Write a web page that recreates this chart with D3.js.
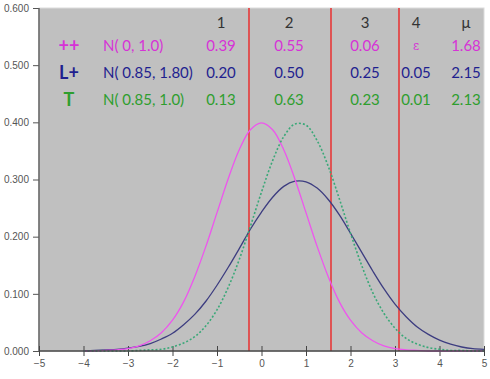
<!DOCTYPE html>
<html>
<head>
<meta charset="utf-8">
<script src="https://cdn.jsdelivr.net/npm/d3@7"></script>
<style>
  body { margin: 0; background: #fff; }
  .tick text { font-family: Arial, "Liberation Sans", sans-serif; font-size: 10px; fill: #555; }
  .legend-text { font-family: Lato, "Open Sans", sans-serif; font-size: 15px; font-weight: 400; }
</style>
</head>
<body>
<div id="chart"></div>
<script>
///////////////////////////////////////////////////////////////////////////
//////////////////////////////// Data ////////////////////////////////////
///////////////////////////////////////////////////////////////////////////

// x positions where the density curves were read
var xs = [-4, -3.75, -3.5, -3.25, -3, -2.75, -2.5, -2.25, -2, -1.75, -1.5, -1.25, -1, -0.75, -0.5, -0.25,
  0, 0.25, 0.5, 0.75, 1, 1.25, 1.5, 1.75, 2, 2.25, 2.5, 2.75, 3, 3.25, 3.5, 3.75, 4, 4.25, 4.5, 4.75, 5];

var pinkValues = [0.000, 0.000, 0.001, 0.002, 0.004, 0.009, 0.018, 0.032, 0.054, 0.086, 0.130, 0.183, 0.242, 0.301, 0.352, 0.387,
  0.399, 0.387, 0.352, 0.301, 0.242, 0.183, 0.130, 0.086, 0.054, 0.032, 0.018, 0.009, 0.004, 0.002, 0.001, 0.000, 0.000, 0.000, 0.000, 0.000, 0.000];

var navyValues = [0.000, 0.001, 0.002, 0.003, 0.005, 0.008, 0.013, 0.021, 0.031, 0.046, 0.064, 0.087, 0.115, 0.146, 0.179, 0.213,
  0.243, 0.269, 0.288, 0.297, 0.296, 0.285, 0.265, 0.238, 0.206, 0.173, 0.140, 0.109, 0.082, 0.060, 0.042, 0.029, 0.019, 0.012, 0.007, 0.004, 0.003];

var greenValues = [0.000, 0.000, 0.000, 0.000, 0.000, 0.001, 0.002, 0.003, 0.007, 0.014, 0.025, 0.044, 0.072, 0.111, 0.160, 0.218,
  0.278, 0.333, 0.375, 0.397, 0.395, 0.368, 0.323, 0.266, 0.206, 0.150, 0.102, 0.066, 0.040, 0.022, 0.012, 0.006, 0.003, 0.001, 0.001, 0.000, 0.000];

// cut points (red vertical lines)
var cutPoints = [-0.29, 1.57, 3.08];

// table in the top of the plot
var headers = ["1", "2", "3", "4", "\u03bc"];
var rowSymbols = ["++", "L+", "T"];
var rowLabels = ["N( 0, 1.0)", "N( 0.85, 1.80)", "N( 0.85, 1.0)"];
var rowCells = [
  ["0.39", "0.55", "0.06", "\u03b5", "1.68"],
  ["0.20", "0.50", "0.25", "0.05", "2.15"],
  ["0.13", "0.63", "0.23", "0.01", "2.13"]
];

var xTicks = [-5, -4, -3, -2, -1, 0, 1, 2, 3, 4, 5];
var yTicks = [0, 0.1, 0.2, 0.3, 0.4, 0.5, 0.6];

///////////////////////////////////////////////////////////////////////////
//////////////////////////////// Setup ///////////////////////////////////
///////////////////////////////////////////////////////////////////////////

var margin = {top: 8, right: 6, bottom: 28, left: 39};
var width = 490 - margin.left - margin.right;
var height = 379 - margin.top - margin.bottom;

var textColors = ["#d633d6", "#1f1f8f", "#2e9e2e"];
var lineColors = ["#ee55ee", "#3d3d80", "#3aa878"];

var svg = d3.select("#chart")
  .append("svg")
  .attr("width", width + margin.left + margin.right)
  .attr("height", height + margin.top + margin.bottom)
  .append("g")
  .attr("transform", "translate(" + margin.left + "," + margin.top + ")");

var x = d3.scaleLinear().domain([-5, 5]).range([0, width]);
var y = d3.scaleLinear().domain([0, 0.6]).range([height, 0]);

//Grey plot area
svg.append("rect")
  .attr("width", width)
  .attr("height", height)
  .style("fill", "#c0c0c0")
  .style("stroke", "#dcdcdc")
  .style("stroke-width", 1);

///////////////////////////////////////////////////////////////////////////
//////////////////////////////// Axes ////////////////////////////////////
///////////////////////////////////////////////////////////////////////////

var yAxis = svg.append("g")
  .call(d3.axisLeft(y).tickValues(yTicks).tickFormat(d3.format(".3f")).tickSize(6).tickPadding(4));
yAxis.select(".domain").remove();
yAxis.selectAll(".tick line").style("stroke", "#555");

svg.append("line")
  .attr("x1", 0).attr("x2", 0)
  .attr("y1", 0).attr("y2", height)
  .style("stroke", "#606060")
  .style("stroke-width", 1.5);

var xAxis = svg.append("g")
  .attr("transform", "translate(0," + height + ")")
  .call(d3.axisBottom(x).tickValues(xTicks).tickFormat(d3.format("d")).tickSize(6).tickPadding(3));
xAxis.select(".domain").remove();
xAxis.selectAll(".tick line")
  .attr("y1", -5).attr("y2", 5)
  .style("stroke", "#444");

///////////////////////////////////////////////////////////////////////////
/////////////////////////////// Curves ///////////////////////////////////
///////////////////////////////////////////////////////////////////////////

function makeLine(values) {
  return d3.line()
    .x(function(d, i) { return x(xs[i]); })
    .y(function(d) { return y(d); })
    .curve(d3.curveCatmullRom)(values);
}

//Red cut lines
svg.selectAll(".cut-line")
  .data(cutPoints)
  .enter().append("line")
  .attr("class", "cut-line")
  .attr("x1", function(d) { return Math.round(x(d)); })
  .attr("x2", function(d) { return Math.round(x(d)); })
  .attr("y1", 0)
  .attr("y2", height)
  .style("stroke", "#e24848")
  .style("stroke-width", 1.8);

svg.append("path")
  .attr("d", makeLine(navyValues))
  .style("fill", "none")
  .style("stroke", lineColors[1])
  .style("stroke-width", 1.3);

svg.append("path")
  .attr("d", makeLine(pinkValues))
  .style("fill", "none")
  .style("stroke", lineColors[0])
  .style("stroke-width", 1.3);

svg.append("path")
  .attr("d", makeLine(greenValues))
  .style("fill", "none")
  .style("stroke", lineColors[2])
  .style("stroke-width", 1.6)
  .style("stroke-dasharray", "2 2");

//Bottom axis line on top of the curves
svg.append("line")
  .attr("x1", 0).attr("x2", width)
  .attr("y1", height).attr("y2", height)
  .style("stroke", "#444")
  .style("stroke-width", 1.5);

///////////////////////////////////////////////////////////////////////////
/////////////////////////////// Table ////////////////////////////////////
///////////////////////////////////////////////////////////////////////////

var colX = [221, 289, 365, 416, 466];
var rowY = [15, 38, 65, 92];

svg.selectAll(".header-text")
  .data(headers)
  .enter().append("text")
  .attr("class", "legend-text header-text")
  .attr("x", function(d, i) { return colX[i] - margin.left; })
  .attr("y", rowY[0])
  .attr("dy", "0.35em")
  .style("text-anchor", "middle")
  .style("fill", "#333")
  .text(function(d) { return d; });

rowSymbols.forEach(function(sym, r) {
  var g = svg.append("g")
    .attr("transform", "translate(0," + rowY[r + 1] + ")")
    .style("fill", textColors[r]);

  g.append("text")
    .attr("class", "legend-text")
    .attr("x", 69 - margin.left)
    .attr("dy", "0.35em")
    .style("text-anchor", "middle")
    .style("font-weight", "bold")
    .style("font-size", "18px")
    .text(sym);

  g.append("text")
    .attr("class", "legend-text")
    .attr("x", 103 - margin.left)
    .attr("dy", "0.35em")
    .text(rowLabels[r]);

  g.selectAll(".cell")
    .data(rowCells[r])
    .enter().append("text")
    .attr("class", "legend-text cell")
    .attr("x", function(d, i) { return colX[i] - margin.left; })
    .attr("dy", "0.35em")
    .style("text-anchor", "middle")
    .style("font-family", function(d) { return d === "\u03b5" ? "'DejaVu Serif', serif" : null; })
    .style("font-size", function(d) { return d === "\u03b5" ? "12px" : null; })
    .text(function(d) { return d; });
});
</script>
</body>
</html>
